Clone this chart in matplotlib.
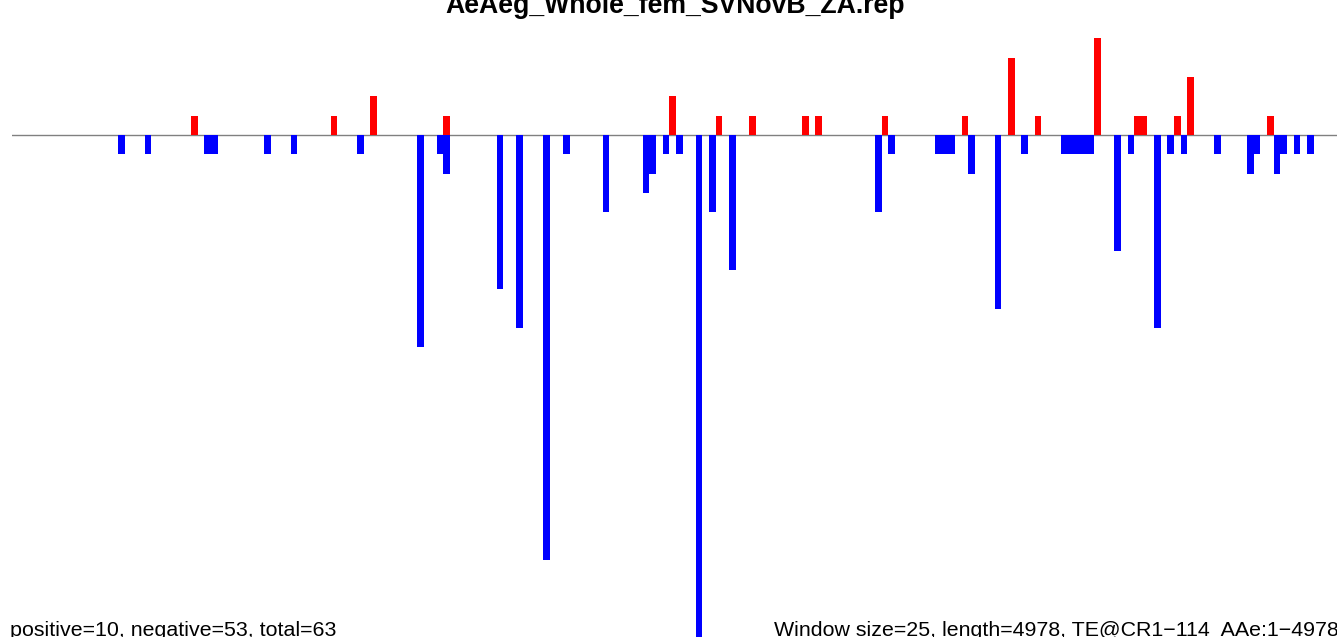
import numpy as np
import matplotlib
matplotlib.use("Agg")
import matplotlib.pyplot as plt

W, H = 1337, 637
WINDOW = 25
SEQ_LEN = 4978

# window index -> count (forward / red)
pos_windows = [27, 48, 54, 65, 99, 106, 111, 119, 121, 131, 143, 150, 154,
               163, 169, 170, 175, 177, 189]
pos_counts = [1, 1, 2, 1, 2, 1, 1, 1, 1, 1, 1, 4, 1,
              5, 1, 1, 1, 3, 1]

# window index -> count (reverse / blue)
neg_windows = [16, 20, 29, 30, 38, 42, 52, 61, 64, 65, 73, 76, 80, 83, 89,
               95, 96, 98, 100, 103, 105, 108, 130, 132, 139, 140, 141, 144,
               148, 152, 158, 159, 160, 161, 162, 166, 168, 172, 174, 176,
               181, 186, 187, 190, 191, 193, 195]
neg_counts = [1, 1, 1, 1, 1, 1, 1, 11, 1, 2, 8, 10, 22, 1, 4,
              3, 2, 1, 1, 27, 4, 7, 4, 1, 1, 1, 1, 2,
              9, 1, 1, 1, 1, 1, 1, 6, 1, 10, 1, 1,
              1, 2, 1, 2, 1, 1, 1]

title = "AeAeg_Whole_fem_SVNovB_ZA.rep"
left_note = "positive=10, negative=53, total=63"
right_note = "Window size=25, length=4978, TE@CR1\u2212114  AAe:1\u22124978"

plt.rcParams['font.family'] = ['Liberation Sans', 'DejaVu Sans']

fig = plt.figure(figsize=(W / 100, H / 100), dpi=100)
x0 = 11.7
px_per_win = 6.642
ax = fig.add_axes([x0 / W, 0, 1 - x0 / W, 1])
ax.set_xlim(0, (W - x0) / px_per_win * WINDOW)
ax.set_ylim(-502 / 19.3, 135 / 19.3)
ax.axis("off")

ax.axhline(0, color="#808080", lw=1.0, zorder=1)
ax.bar(np.array(pos_windows) * WINDOW, pos_counts, width=WINDOW, align="edge",
       color="#ff0000", linewidth=0, zorder=2)
ax.bar(np.array(neg_windows) * WINDOW, -np.array(neg_counts), width=WINDOW,
       align="edge", color="#0000ff", linewidth=0, zorder=2)

fig.text(675 / W, 1 - 12.7 / H, title, ha="center", va="baseline",
         fontsize=19.2, fontweight="bold")
fig.text(10.5 / W, 1 - 636 / H, left_note, ha="left", va="baseline",
         fontsize=15.4)
fig.text(774 / W, 1 - 636 / H, right_note, ha="left", va="baseline",
         fontsize=15.4)

fig.savefig("out.png", dpi=100)
